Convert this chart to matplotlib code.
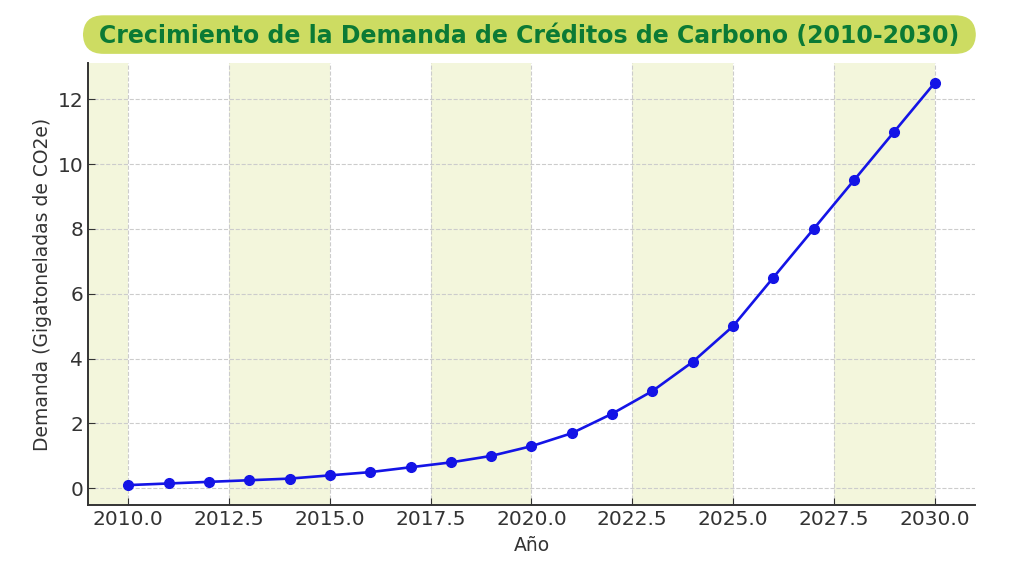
import numpy as np
import matplotlib.pyplot as plt
from matplotlib.patches import FancyBboxPatch
from matplotlib.ticker import MultipleLocator, FormatStrFormatter

# data
years = np.arange(2010, 2031)
demand = [0.1, 0.15, 0.2, 0.25, 0.3, 0.4, 0.5, 0.65, 0.8, 1.0, 1.3,
          1.7, 2.3, 3.0, 3.9, 5.0, 6.5, 8.0, 9.5, 11.0, 12.5]
band_ends = [2010, 2015, 2020, 2025, 2030]
title = "Crecimiento de la Demanda de Créditos de Carbono (2010-2030)"

fig = plt.figure(figsize=(10.24, 5.67), dpi=100)
ax = fig.add_axes([0.086, 0.109, 0.866, 0.780])

for e in band_ends:
    ax.axvspan(e - 2.5, e, color='#f3f6dc', zorder=0, lw=0)

ax.plot(years, demand, color='#1414e6', lw=1.9, marker='o', ms=7, zorder=3)

ax.set_xlim(2009, 2031)
ax.set_ylim(-0.52, 13.12)
ax.xaxis.set_major_locator(MultipleLocator(2.5))
ax.xaxis.set_major_formatter(FormatStrFormatter('%.1f'))

ax.grid(True, ls='--', color='#cccccc', lw=0.8, zorder=1)
ax.set_axisbelow(True)
ax.spines['top'].set_visible(False)
ax.spines['right'].set_visible(False)
for s in ('left', 'bottom'):
    ax.spines[s].set_color('#333333')
    ax.spines[s].set_linewidth(1.4)
ax.tick_params(direction='in', labelsize=14.5, colors='#333333', length=5)
ax.set_xlabel('Año', fontsize=13.5, color='#333333', labelpad=5)
ax.set_ylabel('Demanda (Gigatoneladas de CO2e)', fontsize=13.5, color='#333333')

# title box
box = FancyBboxPatch((0.081, 0.905), 0.872, 0.068, transform=fig.transFigure,
                     boxstyle='round,pad=0,rounding_size=0.02', fc='#cddc62',
                     ec='none', mutation_aspect=1.8)
fig.patches.append(box)
fig.text(0.517, 0.937, title, ha='center', va='center', fontsize=17,
         fontweight='bold', color='#0b7a35', family='DejaVu Sans')

fig.savefig('out.png', dpi=100)
